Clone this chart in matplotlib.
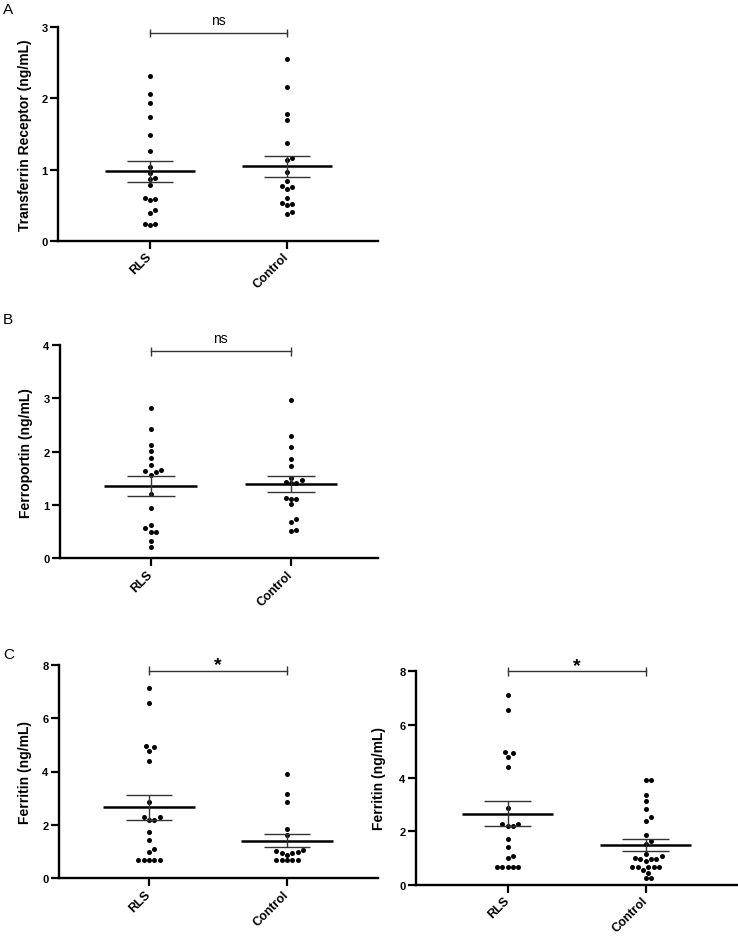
import numpy as np
import matplotlib
matplotlib.use('Agg')
import matplotlib.pyplot as plt

# Values (ng/mL), one list per group
groups = ['RLS', 'Control']

tfr_rls = [2.32, 2.06, 1.93, 1.74, 1.49, 1.26, 1.03, 0.95, 0.88, 0.87,
           0.78, 0.60, 0.59, 0.57, 0.43, 0.39, 0.24, 0.23, 0.22]
tfr_ctrl = [2.56, 2.16, 1.78, 1.70, 1.38, 1.16, 1.13, 0.96, 0.84, 0.77,
            0.75, 0.72, 0.60, 0.53, 0.52, 0.50, 0.41, 0.38]

fpn_rls = [2.82, 2.42, 2.13, 2.01, 1.88, 1.75, 1.66, 1.63, 1.61, 1.57,
           1.21, 0.94, 0.63, 0.57, 0.49, 0.49, 0.33, 0.22]
fpn_ctrl = [2.96, 2.29, 2.09, 1.87, 1.74, 1.51, 1.47, 1.43, 1.41, 1.41,
            1.13, 1.12, 1.11, 1.01, 0.73, 0.69, 0.54, 0.52]

ferritin_rls = [7.12, 6.56, 4.96, 4.93, 4.78, 4.40, 2.86, 2.29, 2.28, 2.20,
                2.20, 1.72, 1.42, 1.09, 1.00, 0.67, 0.67, 0.67, 0.67, 0.67]
ferritin_ctrl_c1 = [3.91, 3.15, 2.85, 1.86, 1.62, 1.07, 1.02, 0.97, 0.96, 0.96,
                    0.89, 0.67, 0.67, 0.67, 0.67, 0.67]
ferritin_ctrl_c2 = [3.94, 3.92, 3.37, 3.14, 2.84, 2.54, 2.40, 1.86, 1.62, 1.51,
                    1.15, 1.07, 1.00, 0.96, 0.95, 0.95, 0.89, 0.67, 0.67, 0.67,
                    0.67, 0.67, 0.55, 0.42, 0.25, 0.25]

W, H = 738, 937

plt.rcParams['font.family'] = ['Liberation Sans', 'DejaVu Sans']


def px_rect(left, top, right, bottom):
    return [left / W, 1 - bottom / H, (right - left) / W, (bottom - top) / H]


def swarm_x(ax, xc, vals, gap):
    # greedy beeswarm in pixel space, lowest values first
    pts = ax.transData.transform(np.column_stack([np.full(len(vals), xc), vals]))
    ys = pts[:, 1]
    cands = [0.0]
    for k in range(1, 20):
        cands += [k * gap / 2, -k * gap / 2]
    offs = np.zeros(len(vals))
    placed = []
    for i in np.argsort(ys):
        for c in cands:
            if all((c - px) ** 2 + (ys[i] - py) ** 2 >= gap ** 2 * 0.98
                   for px, py in placed):
                break
        offs[i] = c
        placed.append((c, ys[i]))
    x0 = ax.transData.transform((xc, 0))[0]
    inv = ax.transData.inverted()
    return np.array([inv.transform((x0 + o, 0))[0] for o in offs])


def draw_panel(fig, rect, xcent, data, ylabel, ymax, ystep, sig, sig_y,
               label_off):
    left, top, right, bottom = rect
    ax = fig.add_axes(px_rect(left, top, right, bottom))
    unit = xcent[1] - xcent[0]
    ax.set_xlim((left - xcent[0]) / unit, (right - xcent[0]) / unit)
    ax.set_ylim(0, ymax)
    for s in ['top', 'right']:
        ax.spines[s].set_visible(False)
    for s in ['left', 'bottom']:
        ax.spines[s].set_linewidth(1.7)
    ax.set_yticks(np.arange(0, ymax + 0.1, ystep))
    ax.set_yticklabels([str(int(v)) for v in np.arange(0, ymax + 0.1, ystep)])
    ax.set_xticks([0, 1])
    ax.set_xticklabels(groups, rotation=45, ha='right', va='center',
                       rotation_mode='anchor', fontweight='bold', fontsize=9)
    ax.tick_params(axis='both', direction='out', length=6, width=1.6)
    ax.tick_params(axis='y', labelsize=8, pad=1.5)
    ax.tick_params(axis='x', pad=4)
    for t in ax.get_yticklabels():
        t.set_fontweight('bold')
    ax.set_ylabel(ylabel, fontsize=10, fontweight='bold')
    ax.yaxis.set_label_coords(-label_off / (right - left), 0.5)

    for i, vals in enumerate(data):
        vals = np.asarray(vals)
        xs = swarm_x(ax, i, vals, 5.3)
        ax.scatter(xs, vals, s=13, color='black', lw=0, clip_on=False, zorder=3)
        m = vals.mean()
        se = vals.std(ddof=1) / np.sqrt(len(vals))
        ax.hlines(m, i - 0.33, i + 0.33, color='black', lw=1.8, zorder=4)
        ax.vlines(i, m - se, m + se, color='#333333', lw=1, zorder=4)
        ax.hlines([m - se, m + se], i - 0.17, i + 0.17, color='#333333',
                  lw=1, zorder=4)

    # significance bracket
    cap = 0.02 * ymax
    ax.plot([0, 1], [sig_y, sig_y], color='#333333', lw=1, clip_on=False)
    ax.vlines([0, 1], sig_y - cap, sig_y + cap, color='#333333', lw=1,
              clip_on=False)
    if sig == '*':
        ax.annotate(sig, xy=(0.5, sig_y), xytext=(0, 1), textcoords='offset points',
                    ha='center', va='baseline', fontsize=14, fontweight='bold',
                    annotation_clip=False)
    else:
        ax.annotate(sig, xy=(0.5, sig_y), xytext=(0, 6.5), textcoords='offset points',
                    ha='center', va='baseline', fontsize=10,
                    annotation_clip=False)
    return ax


fig = plt.figure(figsize=(W / 100, H / 100), dpi=100)

draw_panel(fig, (58, 28.3, 378, 241.7), (150, 287), [tfr_rls, tfr_ctrl],
           'Transferrin Receptor (ng/mL)', 3, 1, 'ns', 2.92, 26)
draw_panel(fig, (60, 346, 378, 559.3), (150.7, 291), [fpn_rls, fpn_ctrl],
           'Ferroportin (ng/mL)', 4, 1, 'ns', 3.88, 27)
draw_panel(fig, (59, 665.7, 378, 879.3), (149, 287), [ferritin_rls, ferritin_ctrl_c1],
           'Ferritin (ng/mL)', 8, 2, '*', 7.78, 27)
draw_panel(fig, (416, 672.3, 737, 885.7), (507.7, 645.7), [ferritin_rls, ferritin_ctrl_c2],
           'Ferritin (ng/mL)', 8, 2, '*', 8.0, 30)

for letter, y in [('A', 3), ('B', 313), ('C', 648)]:
    fig.text(3 / W, 1 - y / H, letter, fontsize=11, va='top', ha='left')

fig.savefig('out.png', dpi=100)
